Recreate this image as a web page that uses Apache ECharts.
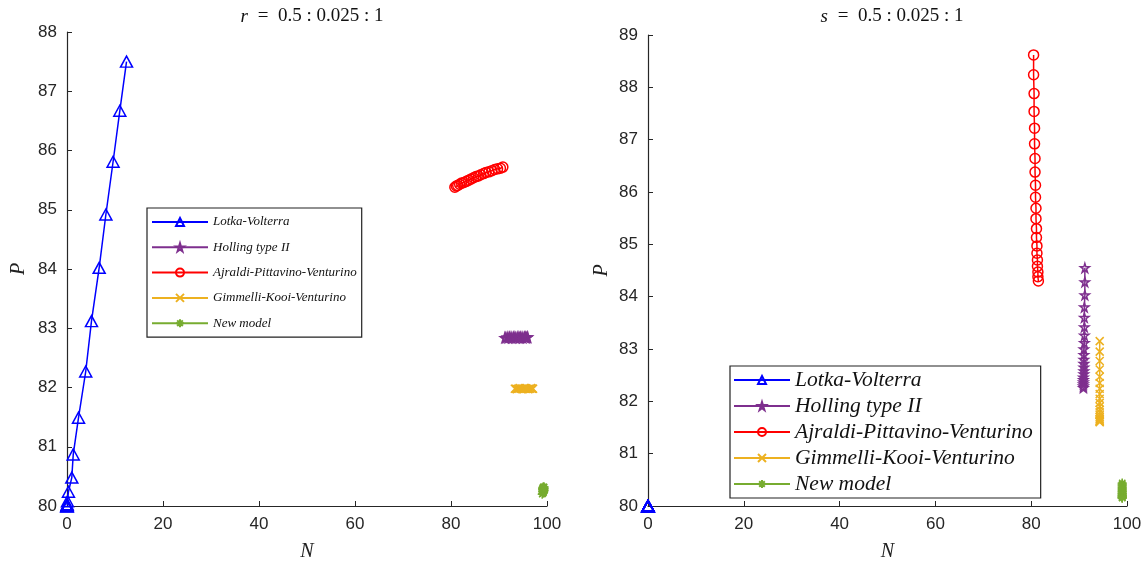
<!DOCTYPE html>
<html><head><meta charset="utf-8">
<script src="https://cdn.jsdelivr.net/npm/echarts@6/dist/echarts.min.js"></script>
<style>html,body{margin:0;padding:0;background:#fff}#c{width:1146px;height:567px}</style>
</head><body><div id="c"></div>
<script>
// ---- data (left panel: r = 0.5:0.025:1) ----
const seriesNames = ['Lotka-Volterra','Holling type II','Ajraldi-Pittavino-Venturino','Gimmelli-Kooi-Venturino','New model'];
const L_LV_N = [12.4,11.0,9.6,8.1,6.7,5.1,3.9,2.4,1.3,1.0,0.3,0.1,0.04,0.01,0,0,0,0,0,0,0];
const L_LV_P = [87.5,86.67,85.81,84.92,84.02,83.12,82.27,81.49,80.87,80.48,80.24,80.08,80.03,80.01,80,80,80,80,80,80,80];
const L_HO_N = [91.2,91.4,91.7,91.9,92.2,92.5,92.7,93.0,93.3,93.5,93.8,94.0,94.3,94.5,94.8,95.0,95.3,95.5,95.7,95.9,96.0];
const L_HO_P = [82.84,82.84,82.85,82.84,82.85,82.85,82.84,82.85,82.85,82.84,82.85,82.85,82.84,82.85,82.85,82.84,82.85,82.85,82.84,82.85,82.85];
const L_AP_N = [80.8,81.1,81.4,81.8,82.2,82.7,83.2,83.7,84.2,84.7,85.2,85.7,86.2,86.8,87.3,87.9,88.5,89.1,89.7,90.3,90.8];
const L_AP_P = [85.38,85.40,85.41,85.43,85.45,85.46,85.48,85.50,85.52,85.54,85.56,85.57,85.59,85.61,85.63,85.64,85.66,85.68,85.69,85.70,85.72];
const L_GK_N = [93.3,93.5,93.7,93.9,94.1,94.3,94.5,94.7,94.9,95.1,95.3,95.5,95.7,95.9,96.1,96.3,96.5,96.7,96.9,97.0,97.1];
const L_GK_P = [81.98,81.98,81.97,81.98,81.98,81.99,81.98,81.98,81.97,81.98,81.98,81.99,81.98,81.98,81.97,81.98,81.98,81.99,81.98,81.98,81.98];
const L_NM_N = [99.0,99.1,99.2,99.3,99.2,99.1,99.3,99.4,99.2,99.3,99.1,99.2,99.4,99.3,99.2,99.1,99.3,99.2,99.4,99.2,99.3];
const L_NM_P = [80.20,80.21,80.22,80.23,80.24,80.25,80.25,80.26,80.27,80.27,80.28,80.28,80.29,80.29,80.30,80.30,80.31,80.31,80.32,80.32,80.32];
// ---- data (right panel: s = 0.5:0.025:1) ----
const R_LV_N = [0,0,0,0,0,0,0,0,0,0,0,0,0,0,0,0,0,0,0,0,0];
const R_LV_P = [80,80,80,80,80,80,80,80,80,80,80,80,80,80,80,80,80,80,80,80,80];
const R_HO_N = [91.2,91.2,91.2,91.1,91.1,91.1,91.1,91.1,91.0,91.0,91.0,91.0,91.0,91.0,91.0,90.9,90.9,90.9,90.9,90.9,90.9];
const R_HO_P = [84.55,84.28,84.03,83.80,83.60,83.42,83.26,83.12,83.00,82.89,82.80,82.72,82.65,82.58,82.52,82.46,82.41,82.37,82.33,82.29,82.26];
const R_AP_N = [80.5,80.5,80.6,80.6,80.7,80.7,80.8,80.8,80.9,80.9,81.0,81.0,81.1,81.1,81.2,81.2,81.3,81.3,81.4,81.4,81.5];
const R_AP_P = [88.62,88.24,87.88,87.54,87.22,86.92,86.64,86.38,86.13,85.90,85.69,85.49,85.30,85.13,84.97,84.83,84.70,84.58,84.47,84.38,84.30];
const R_GK_N = [94.3,94.3,94.3,94.3,94.3,94.3,94.3,94.3,94.3,94.3,94.3,94.3,94.3,94.3,94.3,94.3,94.3,94.3,94.3,94.3,94.3];
const R_GK_P = [83.15,82.95,82.77,82.61,82.47,82.35,82.24,82.14,82.05,81.97,81.90,81.84,81.79,81.74,81.70,81.67,81.65,81.63,81.62,81.61,81.60];
const R_NM_N = [99.0,99.0,99.0,99.0,99.0,99.0,99.0,99.0,99.0,99.0,99.0,99.0,99.0,99.0,99.0,99.0,99.0,99.0,99.0,99.0,99.0];
const R_NM_P = [80.44,80.42,80.40,80.38,80.36,80.34,80.32,80.30,80.28,80.27,80.25,80.24,80.23,80.21,80.20,80.19,80.18,80.17,80.16,80.16,80.15];
const yRangeLeft = [80,88];
const yRangeRight = [80,89];

const colors = ['#0000ff','#7e2f8e','#ff0000','#edb120','#77ac30'];
const STAR = 'path://M50,0L61,35L98,35L68,57L79,91L50,70L21,91L32,57L2,35L39,35Z';
const CROSS = 'path://M0,0L10,10M10,0L0,10';
const AST = 'path://M5,0L5,10M0,5L10,5M1.5,1.5L8.5,8.5M8.5,1.5L1.5,8.5';
const symbols = ['triangle',STAR,'circle',CROSS,AST];
const symSizes = [[12,11],9,10,8,9];

function zip(a,b){return a.map((v,i)=>[v,b[i]]);}
const leftData = [zip(L_LV_N,L_LV_P),zip(L_HO_N,L_HO_P),zip(L_AP_N,L_AP_P),zip(L_GK_N,L_GK_P),zip(L_NM_N,L_NM_P)];
const rightData = [zip(R_LV_N,R_LV_P),zip(R_HO_N,R_HO_P),zip(R_AP_N,R_AP_P),zip(R_GK_N,R_GK_P),zip(R_NM_N,R_NM_P)];

function mkSeries(data, idx){
  return data.map((d,i)=>({
    type:'line', name:seriesNames[i], xAxisIndex:idx, yAxisIndex:idx, data:d,
    symbol:symbols[i], symbolSize:symSizes[i], showAllSymbol:true,
    lineStyle:{color:colors[i], width:1.5},
    itemStyle:{color:'rgba(255,255,255,0)', borderColor:colors[i], borderWidth:1.5},
    emphasis:{disabled:true}, z: 2+i
  }));
}
const axisCol = '#262626';
function xAx(idx){
  return {type:'value', gridIndex:idx, min:0, max:100, interval:20,
    name:'N', nameLocation:'middle', nameGap:36,
    nameTextStyle:{fontFamily:'Liberation Serif', fontStyle:'italic', fontSize:20, color:'#222'},
    axisLine:{onZero:false, lineStyle:{color:axisCol, width:1.2}},
    axisTick:{inside:true, length:5, lineStyle:{color:axisCol}},
    axisLabel:{fontFamily:'Liberation Sans', fontSize:17, color:axisCol, margin:10},
    splitLine:{show:false}};
}
function yAx(idx, r, gap){
  return {type:'value', gridIndex:idx, min:r[0], max:r[1], interval:1,
    name:'P', nameLocation:'middle', nameGap:gap,
    nameTextStyle:{fontFamily:'Liberation Serif', fontStyle:'italic', fontSize:20, color:'#222'},
    axisLine:{onZero:false, lineStyle:{color:axisCol, width:1.2}},
    axisTick:{inside:true, length:5, lineStyle:{color:axisCol}},
    axisLabel:{fontFamily:'Liberation Sans', fontSize:17, color:axisCol, margin:10},
    splitLine:{show:false}};
}
function legend(left, top, fs, lh, gap, pad){
  return {orient:'vertical', left:left, top:top, data:seriesNames,
    itemWidth:56, itemHeight:10, itemGap:gap, padding:pad,
    borderColor:'#222', borderWidth:1.2, backgroundColor:'#fff', borderRadius:0,
    selectedMode:false, inactiveColor:'#000',
    textStyle:{fontFamily:'Liberation Serif', fontStyle:'italic', fontSize:fs, lineHeight:lh, color:'#111'}};
}
const titleRich = {it:{fontFamily:'Liberation Serif', fontStyle:'italic', fontWeight:'normal', fontSize:19, color:'#111'},
                   n:{fontFamily:'Liberation Serif', fontWeight:'normal', fontSize:19, color:'#111'}};
const chart = echarts.init(document.getElementById('c'), null, {renderer:'canvas'});
chart.setOption({
  animation:false, backgroundColor:'#fff',
  title:[
    {text:'{it|r} {n| =  0.5 : 0.025 : 1}', left:307, top:2, textAlign:'center', textStyle:{fontWeight:'normal', rich:titleRich}},
    {text:'{it|s} {n| =  0.5 : 0.025 : 1}', left:887, top:2, textAlign:'center', textStyle:{fontWeight:'normal', rich:titleRich}}
  ],
  grid:[{left:67, top:32, width:480, height:480}, {left:648, top:35, width:479, height:475}],
  xAxis:[xAx(0), xAx(1)],
  yAxis:[yAx(0, yRangeLeft, 38), yAx(1, yRangeRight, 36)],
  legend:[legend(147, 208, 13, 14, 11.3, [7,5,7,4]), legend(730, 366, 21.5, 20, 4, [3,8,3,3])],
  series:[...mkSeries(leftData,0), ...mkSeries(rightData,1)]
});
</script></body></html>
